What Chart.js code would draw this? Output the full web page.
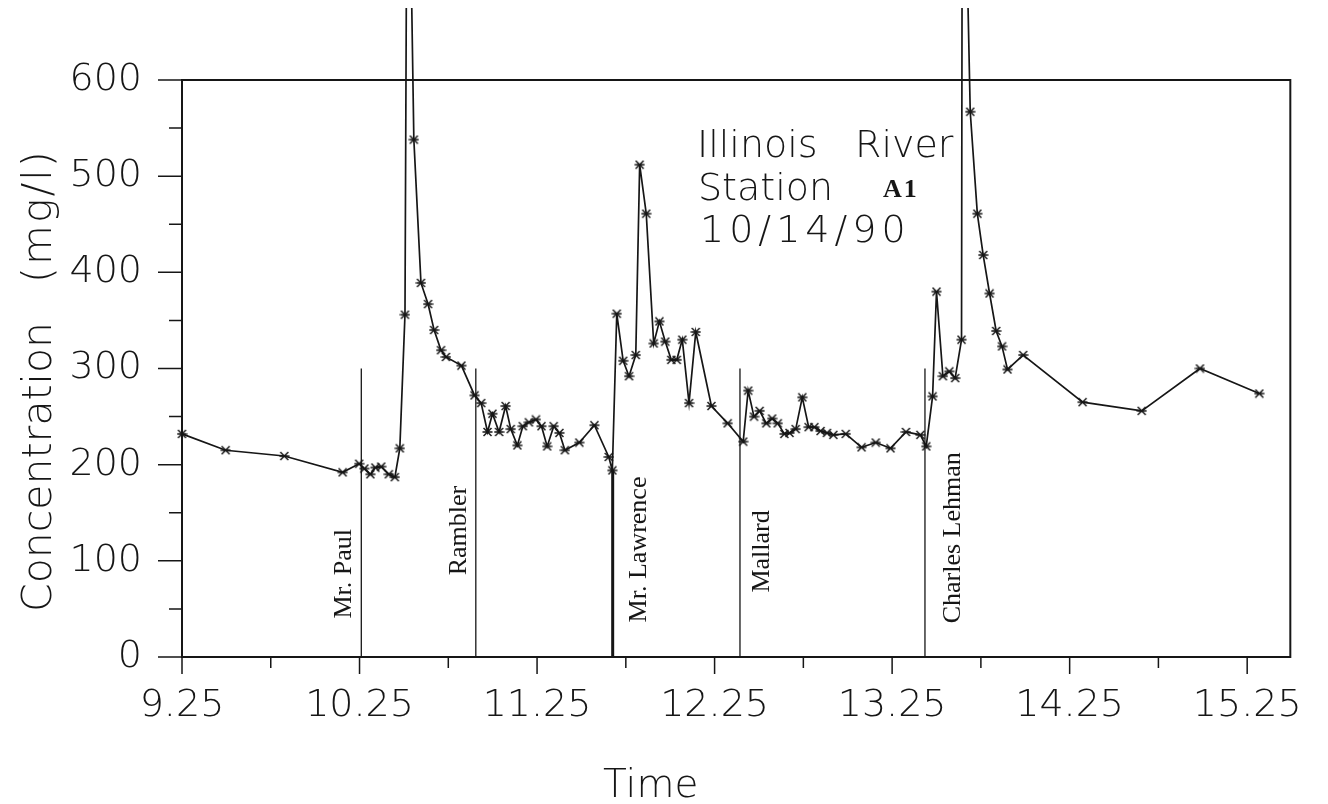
<!DOCTYPE html>
<html>
<head>
<meta charset="utf-8">
<title>Illinois River Station A1</title>
<script src="https://cdn.jsdelivr.net/npm/chart.js@4.4.1/dist/chart.umd.min.js"></script>
<style>
  html, body { margin: 0; padding: 0; background: #fff; }
  #wrap { width: 1328px; height: 804px; }
</style>
</head>
<body>
<div id="wrap"><canvas id="chart" width="1328" height="804"></canvas></div>
<script>
"use strict";

// sample time (decimal hours) and concentration (mg/l)
var times = [9.25, 9.496, 9.826, 10.155, 10.248, 10.277, 10.311, 10.339, 10.372, 10.415,
  10.449, 10.477, 10.506, 10.52, 10.556, 10.596, 10.636, 10.67, 10.709, 10.737,
  10.824, 10.898, 10.935, 10.971, 10.999, 11.036, 11.073, 11.102, 11.139, 11.17,
  11.204, 11.244, 11.275, 11.307, 11.344, 11.376, 11.407, 11.488, 11.573, 11.654,
  11.674, 11.699, 11.735, 11.768, 11.806, 11.828, 11.865, 11.907, 11.939, 11.972,
  12.006, 12.037, 12.068, 12.106, 12.144, 12.232, 12.324, 12.411, 12.439, 12.472,
  12.504, 12.541, 12.574, 12.606, 12.643, 12.672, 12.707, 12.744, 12.78, 12.812,
  12.847, 12.883, 12.919, 12.989, 13.078, 13.158, 13.241, 13.328, 13.409, 13.442,
  13.478, 13.5, 13.536, 13.572, 13.605, 13.641, 13.646, 13.69, 13.73, 13.763,
  13.799, 13.836, 13.869, 13.9, 13.988, 14.323, 14.656, 14.984, 15.318];
var conc = [232, 215, 209, 192, 201, 196, 190, 197, 198, 190,
  187, 217, 356, 960, 538, 389, 367, 340, 319, 312,
  303, 272, 264, 234, 253, 234, 261, 237, 220, 240,
  244, 247, 240, 219, 240, 233, 215, 223, 241, 208,
  194, 357, 308, 292, 314, 512, 461, 326, 349, 328,
  309, 309, 330, 264, 338, 261, 243, 224, 277, 250,
  256, 243, 248, 243, 232, 233, 237, 270, 239, 239,
  235, 233, 231, 232, 218, 223, 217, 234, 231, 219,
  271, 380, 292, 297, 290, 330, 955, 567, 461, 418,
  378, 339, 323, 299, 314, 265, 256, 300, 274];

// boats passing the station
var eventNames = ['Mr. Paul', 'Rambler', 'Mr. Lawrence', 'Mallard', 'Charles Lehman'];
var eventTimes = [10.26, 10.905, 11.676, 12.393, 13.435];
var eventTops = [300, 300, 194, 300, 300];

// axis ticks
var xTickValues = [9.25, 9.75, 10.25, 10.75, 11.25, 11.75, 12.25, 12.75, 13.25, 13.75, 14.25, 14.75, 15.25];
var xTickLabels = ['9.25', '10.25', '11.25', '12.25', '13.25', '14.25', '15.25'];
var yTickValues = [0, 50, 100, 150, 200, 250, 300, 350, 400, 450, 500, 550, 600];
var yTickLabels = ['0', '100', '200', '300', '400', '500', '600'];

var ink = '#161616';
var sans = '"DejaVu Sans", "Liberation Sans", sans-serif';

// label placement: pixel offset of the text baseline from the boat line, value at text start
var eventLabelDx = [-10, -10, 33, 29, 35];
var eventLabelFrom = [40, 85, 36, 67, 35];
var eventLineWidth = [1.3, 1.3, 3, 1.3, 1.3];

function makeStar() {
  var c = document.createElement('canvas');
  c.width = 11; c.height = 10;
  var g = c.getContext('2d');
  g.strokeStyle = ink;
  g.lineWidth = 1.5;
  g.beginPath();
  g.moveTo(0.5, 5); g.lineTo(10.5, 5);
  g.moveTo(1.5, 1); g.lineTo(9.5, 9);
  g.moveTo(1.5, 9); g.lineTo(9.5, 1);
  g.stroke();
  return c;
}
var star = makeStar();

var points = times.map(function (t, i) { return { x: t, y: conc[i] }; });

var datasets = [{
  data: points,
  borderColor: ink,
  borderWidth: 1.7,
  tension: 0,
  pointStyle: star,
  pointRadius: 5,
  clip: { left: 8, top: 72, right: 0, bottom: 0 }
}];
eventTimes.forEach(function (t, i) {
  datasets.push({
    data: [{ x: t, y: 0 }, { x: t, y: eventTops[i] }],
    borderColor: ink,
    borderWidth: eventLineWidth[i],
    pointRadius: 0,
    tension: 0
  });
});

var decor = {
  id: 'decor',
  beforeDraw: function (chart) {
    chart.ctx.letterSpacing = '0px';
  },
  beforeDatasetsDraw: function (chart) {
    var ctx = chart.ctx, a = chart.chartArea;
    var xs = chart.scales.x, ys = chart.scales.y;
    ctx.save();
    ctx.strokeStyle = ink;
    ctx.lineWidth = 2;
    ctx.strokeRect(a.left, a.top, a.right - a.left, a.bottom - a.top);
    ctx.lineWidth = 1.5;
    ctx.beginPath();
    yTickValues.forEach(function (v) {
      var py = ys.getPixelForValue(v);
      var len = v % 100 === 0 ? 24 : 13;
      ctx.moveTo(a.left - len, py);
      ctx.lineTo(a.left, py);
    });
    xTickValues.forEach(function (t, i) {
      var px = xs.getPixelForValue(t);
      var len = i % 2 === 0 ? 17 : 11;
      ctx.moveTo(px, a.bottom);
      ctx.lineTo(px, a.bottom + len);
    });
    ctx.stroke();
    ctx.restore();
  },
  afterDraw: function (chart) {
    var ctx = chart.ctx;
    var xs = chart.scales.x, ys = chart.scales.y;
    ctx.save();
    ctx.fillStyle = ink;
    ctx.textBaseline = 'alphabetic';
    ctx.textAlign = 'left';

    // boat names, rotated
    ctx.letterSpacing = '0px';
    ctx.font = '26px "Liberation Serif", "Times New Roman", serif';
    eventNames.forEach(function (name, i) {
      ctx.save();
      ctx.translate(xs.getPixelForValue(eventTimes[i]) + eventLabelDx[i], ys.getPixelForValue(eventLabelFrom[i]));
      ctx.rotate(-Math.PI / 2);
      ctx.fillText(name, 0, 0);
      ctx.restore();
    });

    // station block
    ctx.font = '200 38px ' + sans;
    ctx.fillText('Illinois', 697, 157);
    ctx.fillText('River', 855, 157);
    ctx.fillText('Station', 698, 200);
    ctx.letterSpacing = '5px';
    ctx.fillText('10/14/90', 700, 242);
    ctx.letterSpacing = '2px';
    ctx.font = 'bold 26px "Liberation Serif", serif';
    ctx.fillText('A1', 883, 197);

    // axis titles
    ctx.letterSpacing = '0px';
    ctx.font = '200 39px ' + sans;
    ctx.fillText('Time', 603, 797);
    ctx.save();
    ctx.translate(51, 612);
    ctx.rotate(-Math.PI / 2);
    ctx.font = '200 41px ' + sans;
    ctx.fillText('Concentration', 0, 0);
    ctx.letterSpacing = '2px';
    ctx.fillText('(mg/l)', 329, 0);
    ctx.restore();
    ctx.restore();
  }
};

new Chart(document.getElementById('chart'), {
  type: 'line',
  data: { datasets: datasets },
  options: {
    responsive: false,
    animation: false,
    devicePixelRatio: 1,
    layout: { padding: { top: 80, right: 11, left: 0, bottom: 0 } },
    plugins: { legend: { display: false }, tooltip: { enabled: false } },
    scales: {
      x: {
        type: 'linear',
        min: 9.25,
        max: 15.493,
        grid: { display: false, drawTicks: true, tickLength: 0 },
        border: { display: false },
        afterBuildTicks: function (s) {
          s.ticks = xTickLabels.map(function (l) { return { value: parseFloat(l) }; });
        },
        afterFit: function (s) { s.height = 147; },
        ticks: {
          font: { family: sans, size: 38, weight: '200' },
          color: ink,
          padding: 26,
          maxRotation: 0,
          autoSkip: false,
          callback: function (v, i) { return xTickLabels[i]; }
        }
      },
      y: {
        type: 'linear',
        min: 0,
        max: 600,
        grid: { display: false, drawTicks: true, tickLength: 0 },
        border: { display: false },
        afterBuildTicks: function (s) {
          s.ticks = yTickLabels.map(function (l) { return { value: parseFloat(l) }; });
        },
        afterFit: function (s) { s.width = 182; },
        ticks: {
          font: { family: sans, size: 38, weight: '200' },
          color: ink,
          padding: 40,
          autoSkip: false,
          callback: function (v, i) { return yTickLabels[i]; }
        }
      }
    }
  },
  plugins: [decor]
});
</script>
</body>
</html>
